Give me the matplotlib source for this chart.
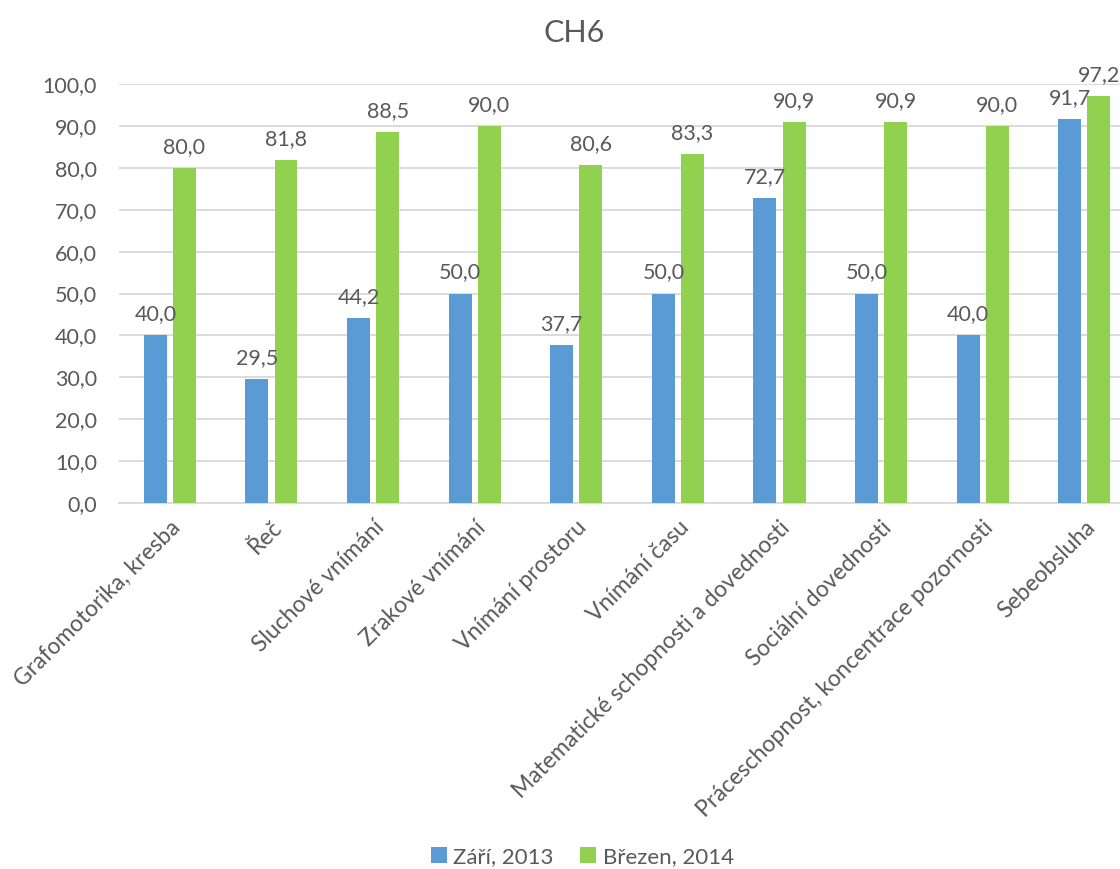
import matplotlib
matplotlib.use("Agg")
import matplotlib.pyplot as plt
import numpy as np

categories = [
    "Grafomotorika, kresba",
    "Řeč",
    "Sluchové vnímání",
    "Zrakové vnímání",
    "Vnímání prostoru",
    "Vnímání času",
    "Matematické schopnosti a dovednosti",
    "Sociální dovednosti",
    "Práceschopnost, koncentrace pozornosti",
    "Sebeobsluha",
]
zari_2013 = [40.0, 29.5, 44.2, 50.0, 37.7, 50.0, 72.7, 50.0, 40.0, 91.7]
brezen_2014 = [80.0, 81.8, 88.5, 90.0, 80.6, 83.3, 90.9, 90.9, 90.0, 97.2]
series_names = ["Září, 2013", "Březen, 2014"]
y_ticks = [0, 10, 20, 30, 40, 50, 60, 70, 80, 90, 100]

BLUE = "#5B9BD5"
GREEN = "#92D050"
TEXT = "#595959"
GRID = "#D9D9D9"

plt.rcParams["font.family"] = ["Lato", "DejaVu Sans"]

fig = plt.figure(figsize=(11.2, 8.69), dpi=100)
ax = fig.add_axes([0.1063, 0.4212, 0.9072, 0.4821])

x = np.arange(len(categories))
w = 0.226
off = 0.143
b1 = ax.bar(x - off, zari_2013, w, color=BLUE, label=series_names[0], zorder=3)
b2 = ax.bar(x + off, brezen_2014, w, color=GREEN, label=series_names[1], zorder=3)

def fmt(v):
    return f"{v:.1f}".replace(".", ",")

for bars, vals in ((b1, zari_2013), (b2, brezen_2014)):
    for rect, v in zip(bars, vals):
        ax.annotate(fmt(v), (rect.get_x() + rect.get_width() / 2, v),
                    xytext=(0, 8), textcoords="offset points",
                    ha="center", va="bottom", fontsize=15.5, color=TEXT)

ax.set_xlim(-0.5, len(categories) - 0.5)
ax.set_ylim(0, 100)
ax.set_yticks(y_ticks)
ax.set_yticklabels([fmt(t) for t in y_ticks], fontsize=15.5, color=TEXT)
ax.yaxis.grid(True, color=GRID, linewidth=1.3, zorder=0)
ax.set_axisbelow(True)
ax.tick_params(axis="both", length=0)
ax.tick_params(axis="y", pad=16)

ax.set_xticks(x)
ax.set_xticklabels(categories, rotation=45, ha="right", rotation_mode="anchor",
                   fontsize=16.5, color=TEXT)
ax.tick_params(axis="x", pad=10)

for s in ("left", "right", "top"):
    ax.spines[s].set_visible(False)
ax.spines["bottom"].set_color(GRID)
ax.spines["bottom"].set_linewidth(1.3)

fig.text(0.513, 0.962, "CH6", ha="center", va="center", fontsize=22, color=TEXT)

fig.legend(handles=[b1, b2], labels=series_names, loc="center",
           bbox_to_anchor=(0.52, 0.014), ncol=2, frameon=False,
           fontsize=16, labelcolor=TEXT, handlelength=0.7, handleheight=0.7,
           handletextpad=0.3, columnspacing=1.2)

fig.savefig("out.png", dpi=100)
